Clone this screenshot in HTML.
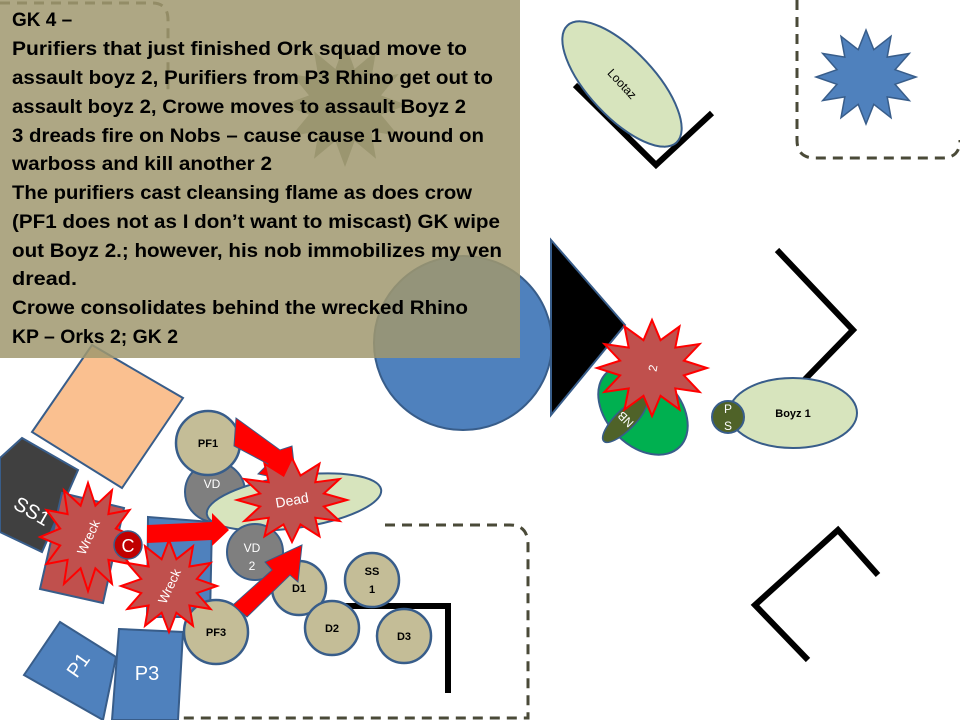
<!DOCTYPE html>
<html><head><meta charset="utf-8"><style>
html,body{margin:0;padding:0;background:#fff}
svg{display:block}
.t{font-family:"Liberation Sans",sans-serif;font-weight:bold;font-size:19px;fill:#000}
.s{font-family:"Liberation Sans",sans-serif;font-size:12px}
.b{font-family:"Liberation Sans",sans-serif;font-weight:bold;font-size:11px;fill:#000}
.rs{fill:#C0504D;stroke:#f00;stroke-width:2}
</style></head><body>
<svg width="960" height="720" viewBox="0 0 960 720" xmlns="http://www.w3.org/2000/svg">
<path d="M0,3 H152 Q168,3 168,20 V90" fill="none" stroke="#4a4a38" stroke-width="3" stroke-dasharray="10,7"/>
<polygon fill="#7f8a78" points="407,105 381,114.6 398.7,136 371.3,131.3 376,158.7 354.6,141 345,167 335.4,141 314,158.7 318.7,131.3 291.3,136 309,114.6 283,105 309,95.4 291.3,74 318.7,78.7 314,51.3 335.4,69 345,43 354.6,69 376,51.3 371.3,78.7 398.7,74 381,95.4"/>
<ellipse cx="463" cy="343" rx="89" ry="87" fill="#4F81BD" stroke="#385D8A" stroke-width="2"/>
<polygon points="32,432 92,345 183,398 122,488" fill="#FAC090" stroke="#385D8A" stroke-width="2"/>
<rect x="0" y="0" width="520" height="358" fill="rgb(160,152,110)" fill-opacity="0.85"/>
<g class="t">
<text x="12" y="26">GK 4 –</text>
<text x="12" y="55" textLength="455" lengthAdjust="spacingAndGlyphs">Purifiers that just finished Ork squad  move to</text>
<text x="12" y="84" textLength="481" lengthAdjust="spacingAndGlyphs">assault boyz 2, Purifiers from P3 Rhino get out to</text>
<text x="12" y="113" textLength="454" lengthAdjust="spacingAndGlyphs">assault boyz 2, Crowe moves to assault Boyz 2</text>
<text x="12" y="142" textLength="472" lengthAdjust="spacingAndGlyphs">3 dreads fire on Nobs – cause cause 1 wound on</text>
<text x="12" y="170" textLength="260" lengthAdjust="spacingAndGlyphs">warboss and kill another 2</text>
<text x="12" y="199" textLength="460" lengthAdjust="spacingAndGlyphs">The purifiers cast cleansing flame as does crow</text>
<text x="12" y="228" textLength="488" lengthAdjust="spacingAndGlyphs">(PF1 does not as I don’t want to miscast) GK wipe</text>
<text x="12" y="257" textLength="490" lengthAdjust="spacingAndGlyphs">out Boyz 2.; however, his nob immobilizes my ven</text>
<text x="12" y="285" textLength="65" lengthAdjust="spacingAndGlyphs">dread.</text>
<text x="12" y="314" textLength="456" lengthAdjust="spacingAndGlyphs">Crowe consolidates behind the wrecked Rhino</text>
<text x="12" y="343" textLength="166" lengthAdjust="spacingAndGlyphs">KP – Orks 2; GK 2</text>
</g>
<polygon points="551,240 551,415 625,325" fill="#000" stroke="#385D8A" stroke-width="2"/>
<polyline points="575,85 656,165 712,113" fill="none" stroke="#000" stroke-width="6"/>
<ellipse cx="622" cy="84" rx="80" ry="33" transform="rotate(47 622 84)" fill="#D7E4BD" stroke="#385D8A" stroke-width="2"/>
<text class="s" x="622" y="88" text-anchor="middle" transform="rotate(47 622 84)" font-size="11">Lootaz</text>
<path d="M797,0 V140 Q797,158 815,158 H942 Q960,158 960,140" fill="none" stroke="#4a4a38" stroke-width="3" stroke-dasharray="10,7"/>
<polygon fill="#4F81BD" stroke="#385D8A" stroke-width="1.5" points="916,77 895,84.3 909.3,100.5 887.2,96.9 891,117.7 873.8,104.3 866,124 858.2,104.3 841,117.7 844.8,96.9 822.7,100.5 837,84.3 816,77 837,69.7 822.7,53.5 844.8,57.1 841,36.3 858.2,49.7 866,30 873.8,49.7 891,36.3 887.2,57.1 909.3,53.5 895,69.7"/>
<polyline points="777,250 853,330 780,405" fill="none" stroke="#000" stroke-width="6"/>
<polyline points="878,575 838,530 755,605 808,660" fill="none" stroke="#000" stroke-width="6"/>
<ellipse cx="643" cy="410" rx="52" ry="36" transform="rotate(45 643 410)" fill="#00B050" stroke="#385D8A" stroke-width="2"/>
<ellipse cx="625" cy="420" rx="30" ry="10" transform="rotate(-45 625 420)" fill="#4F6228" stroke="#385D8A" stroke-width="1.5"/>
<text class="s" x="625" y="425" text-anchor="middle" fill="#fff" transform="rotate(-135 625 420)" font-size="14">NB</text>
<polygon class="rs" points="707,368 683.9,375.4 699.6,392 675.3,388.4 679.5,409.6 660.5,395.8 652,416 643.5,395.8 624.5,409.6 628.7,388.4 604.4,392 620.1,375.4 597,368 620.1,360.6 604.4,344 628.7,347.6 624.5,326.4 643.5,340.2 652,320 660.5,340.2 679.5,326.4 675.3,347.6 699.6,344 683.9,360.6"/>
<text class="s" x="652" y="373" text-anchor="middle" fill="#fff" transform="rotate(-80 652 368)">2</text>
<ellipse cx="793" cy="413" rx="64" ry="35" fill="#D7E4BD" stroke="#385D8A" stroke-width="2"/>
<text class="b" x="793" y="417" text-anchor="middle">Boyz 1</text>
<circle cx="728" cy="417" r="16" fill="#4F6228" stroke="#385D8A" stroke-width="2"/>
<text class="s" x="728" y="413" text-anchor="middle" fill="#fff" font-size="10">P</text>
<text class="s" x="728" y="430" text-anchor="middle" fill="#fff" font-size="10">S</text>
<path d="M385,525 H510 Q528,525 528,545 V718 H180" fill="none" stroke="#4a4a38" stroke-width="3" stroke-dasharray="10,7"/>
<polyline points="329,606 448,606 448,693" fill="none" stroke="#000" stroke-width="6"/>
<polygon points="0,458 22,438 78,470 42,552 0,532" fill="#404040" stroke="#385D8A" stroke-width="2"/>
<text x="32" y="518" fill="#fff" font-family="Liberation Sans,sans-serif" font-size="20" text-anchor="middle" transform="rotate(30 32 511)">SS1</text>
<polygon points="62,493 124,508 103,603 40,589" fill="#C0504D" stroke="#385D8A" stroke-width="2"/>
<polygon points="148,517 212,522 210,617 147,617" fill="#4F81BD" stroke="#385D8A" stroke-width="2"/>
<polygon points="60,622 116,657 103,720 24,675" fill="#4F81BD" stroke="#385D8A" stroke-width="2"/>
<text x="78" y="672" fill="#fff" font-family="Liberation Sans,sans-serif" font-size="20" transform="rotate(-55 78 665)" text-anchor="middle">P1</text>
<polygon points="119,629 183,632 178,720 112,720" fill="#4F81BD" stroke="#385D8A" stroke-width="2"/>
<text x="147" y="680" fill="#fff" font-family="Liberation Sans,sans-serif" font-size="20" text-anchor="middle">P3</text>
<circle cx="215" cy="492" r="30" fill="#7F7F7F" stroke="#385D8A" stroke-width="2"/>
<text class="s" x="212" y="488" fill="#fff" text-anchor="middle">VD</text>
<circle cx="208" cy="443" r="32" fill="#C4BD97" stroke="#385D8A" stroke-width="2.5"/>
<text class="b" x="208" y="447" text-anchor="middle">PF1</text>
<ellipse cx="294" cy="502" rx="88" ry="26" transform="rotate(-8 294 502)" fill="#D7E4BD" stroke="#385D8A" stroke-width="2"/>
<circle cx="255" cy="552" r="28" fill="#7F7F7F" stroke="#385D8A" stroke-width="2"/>
<text class="s" x="252" y="552" fill="#fff" text-anchor="middle">VD</text>
<text class="s" x="252" y="570" fill="#fff" text-anchor="middle">2</text>
<circle cx="299" cy="588" r="27" fill="#C4BD97" stroke="#385D8A" stroke-width="2.5"/>
<text class="b" x="299" y="592" text-anchor="middle">D1</text>
<circle cx="332" cy="628" r="27" fill="#C4BD97" stroke="#385D8A" stroke-width="2.5"/>
<text class="b" x="332" y="632" text-anchor="middle">D2</text>
<circle cx="372" cy="580" r="27" fill="#C4BD97" stroke="#385D8A" stroke-width="2.5"/>
<text class="b" x="372" y="575" text-anchor="middle">SS</text>
<text class="b" x="372" y="593" text-anchor="middle">1</text>
<circle cx="404" cy="636" r="27" fill="#C4BD97" stroke="#385D8A" stroke-width="2.5"/>
<text class="b" x="404" y="640" text-anchor="middle">D3</text>
<circle cx="216" cy="632" r="32" fill="#C4BD97" stroke="#385D8A" stroke-width="2.5"/>
<text class="b" x="216" y="636" text-anchor="middle">PF3</text>
<polygon points="236,418 280,450 292,446 296,482 258,474 268,464 234,446" fill="#f00" stroke="#385D8A" stroke-width="1"/>
<polygon points="147,525 212,522 212,513 229,530 212,546 212,540 147,543" fill="#f00"/>
<polygon points="233,605 272,570 265,562 302,545 298,582 290,575 247,617" fill="#f00" stroke="#385D8A" stroke-width="1"/>
<polygon class="rs" points="347,500 323.9,506.5 339.6,521 315.3,517.8 319.5,536.4 300.5,524.4 292,542 283.5,524.4 264.5,536.4 268.7,517.8 244.4,521 260.1,506.5 237,500 260.1,493.5 244.4,479 268.7,482.2 264.5,463.6 283.5,475.6 292,458 300.5,475.6 319.5,463.6 315.3,482.2 339.6,479 323.9,493.5"/>
<text x="292" y="505" fill="#fff" font-family="Liberation Sans,sans-serif" font-size="14" text-anchor="middle" transform="rotate(-10 292 500)">Dead</text>
<polygon class="rs" points="136,537 115.8,545.4 129.6,564 108.4,559.9 112,583.8 95.4,568.3 88,591 80.6,568.3 64,583.8 67.6,559.9 46.4,564 60.2,545.4 40,537 60.2,528.6 46.4,510 67.6,514.1 64,490.2 80.6,505.7 88,483 95.4,505.7 112,490.2 108.4,514.1 129.6,510 115.8,528.6"/>
<circle cx="128" cy="545" r="14" fill="#C00000" stroke="#385D8A" stroke-width="1.5"/>
<text x="128" y="552" fill="#fff" font-family="Liberation Sans,sans-serif" font-size="18" text-anchor="middle">C</text>
<text x="88" y="542" fill="#fff" font-family="Liberation Sans,sans-serif" font-size="13" text-anchor="middle" transform="rotate(-65 88 537)">Wreck</text>
<polygon class="rs" points="217,586 196.8,593.1 210.6,609 189.4,605.5 193,625.8 176.4,612.7 169,632 161.6,612.7 145,625.8 148.6,605.5 127.4,609 141.2,593.1 121,586 141.2,578.9 127.4,563 148.6,566.5 145,546.2 161.6,559.3 169,540 176.4,559.3 193,546.2 189.4,566.5 210.6,563 196.8,578.9"/>
<text x="169" y="591" fill="#fff" font-family="Liberation Sans,sans-serif" font-size="13" text-anchor="middle" transform="rotate(-65 169 586)">Wreck</text>
</svg>
</body></html>
